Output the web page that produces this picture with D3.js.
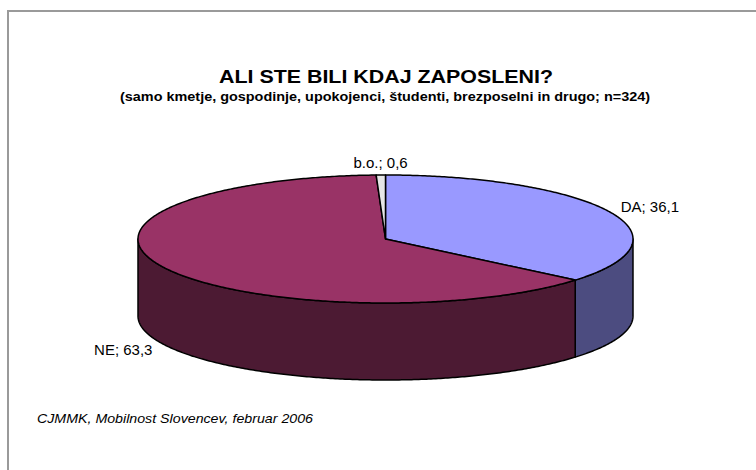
<!DOCTYPE html>
<html>
<head>
<meta charset="utf-8">
<script src="https://cdn.jsdelivr.net/npm/d3@7"></script>
<style>
  body { margin: 0; background: #fff; }
  svg { display: block; font-family: "Liberation Sans", Arial, sans-serif; }
</style>
</head>
<body>
<svg width="756" height="470"></svg>
<script>
// data
var categories = ["DA", "NE", "b.o."];
var values = [36.1, 63.3, 0.6];
var valueLabels = ["36,1", "63,3", "0,6"];
var topColors = ["#9999ff", "#993366", "#e6e6e6"];
var sideColors = ["#4c4c80", "#4c1a33", "#8a8a8a"];

var svg = d3.select("svg"),
    width = +svg.attr("width"),
    height = +svg.attr("height");

// frame (cut off on right and bottom like the original)
svg.append("rect")
    .attr("x", 8).attr("y", 11)
    .attr("width", 800).attr("height", 500)
    .attr("fill", "none")
    .attr("stroke", "#9a9a9a")
    .attr("stroke-width", 2);

// titles
svg.append("text")
    .attr("x", 386).attr("y", 83)
    .attr("text-anchor", "middle")
    .attr("font-size", 18.5)
    .attr("font-weight", "bold")
    .attr("textLength", 334)
    .attr("lengthAdjust", "spacingAndGlyphs")
    .text("ALI STE BILI KDAJ ZAPOSLENI?");

svg.append("text")
    .attr("x", 385).attr("y", 101)
    .attr("text-anchor", "middle")
    .attr("font-size", 12.5)
    .attr("font-weight", "bold")
    .attr("textLength", 530)
    .attr("lengthAdjust", "spacingAndGlyphs")
    .text("(samo kmetje, gospodinje, upokojenci, študenti, brezposelni in drugo; n=324)");

svg.append("text")
    .attr("x", 37).attr("y", 423)
    .attr("font-size", 13)
    .attr("font-style", "italic")
    .attr("textLength", 276)
    .attr("lengthAdjust", "spacingAndGlyphs")
    .text("CJMMK, Mobilnost Slovencev, februar 2006");

// 3D pie geometry
var cx = 385.5, cy = 239, rx = 247.5, ry = 64, depth = 77;

var pie = d3.pie().sort(null).startAngle(0).endAngle(2 * Math.PI);
var arcs = pie(values);

function pt(a, dy) {
    return [cx + rx * Math.sin(a), cy - ry * Math.cos(a) + (dy || 0)];
}

function arcPoints(a0, a1, dy) {
    var n = Math.max(2, Math.ceil((a1 - a0) / 0.01));
    return d3.range(n + 1).map(function (i) { return pt(a0 + (a1 - a0) * i / n, dy); });
}

var line = d3.line();

// outer side walls (only the front half, angles between PI/2 and 3PI/2)
var sides = svg.append("g").attr("class", "sides");
arcs.forEach(function (d, i) {
    var a0 = Math.max(d.startAngle, Math.PI / 2),
        a1 = Math.min(d.endAngle, 3 * Math.PI / 2);
    if (a1 <= a0) return;
    var pts = arcPoints(a0, a1, 0).concat(arcPoints(a0, a1, depth).reverse());
    sides.append("path")
        .attr("d", line(pts) + "Z")
        .attr("fill", sideColors[i])
        .attr("stroke", "#000")
        .attr("stroke-width", 1.5)
        .attr("stroke-linejoin", "round");
});

// top faces
var tops = svg.append("g").attr("class", "tops");
arcs.forEach(function (d, i) {
    var pts = [[cx, cy]].concat(arcPoints(d.startAngle, d.endAngle, 0));
    tops.append("path")
        .attr("d", line(pts) + "Z")
        .attr("fill", topColors[i])
        .attr("stroke", "#000")
        .attr("stroke-width", 1.5)
        .attr("stroke-linejoin", "round");
});

// data labels
var labels = svg.append("g").attr("class", "labels");
arcs.forEach(function (d, i) {
    var m = (d.startAngle + d.endAngle) / 2,
        s = Math.sin(m), c = Math.cos(m);
    var x = cx + (rx + 12) * s,
        y = cy - (ry + 12) * c + (c < 0 ? depth : 0);
    labels.append("text")
        .attr("x", x).attr("y", y)
        .attr("dy", "0.35em")
        .attr("text-anchor", Math.abs(s) < 0.2 ? "middle" : (s > 0 ? "start" : "end"))
        .attr("font-size", 15)
        .text(categories[i] + "; " + valueLabels[i]);
});
</script>
</body>
</html>
